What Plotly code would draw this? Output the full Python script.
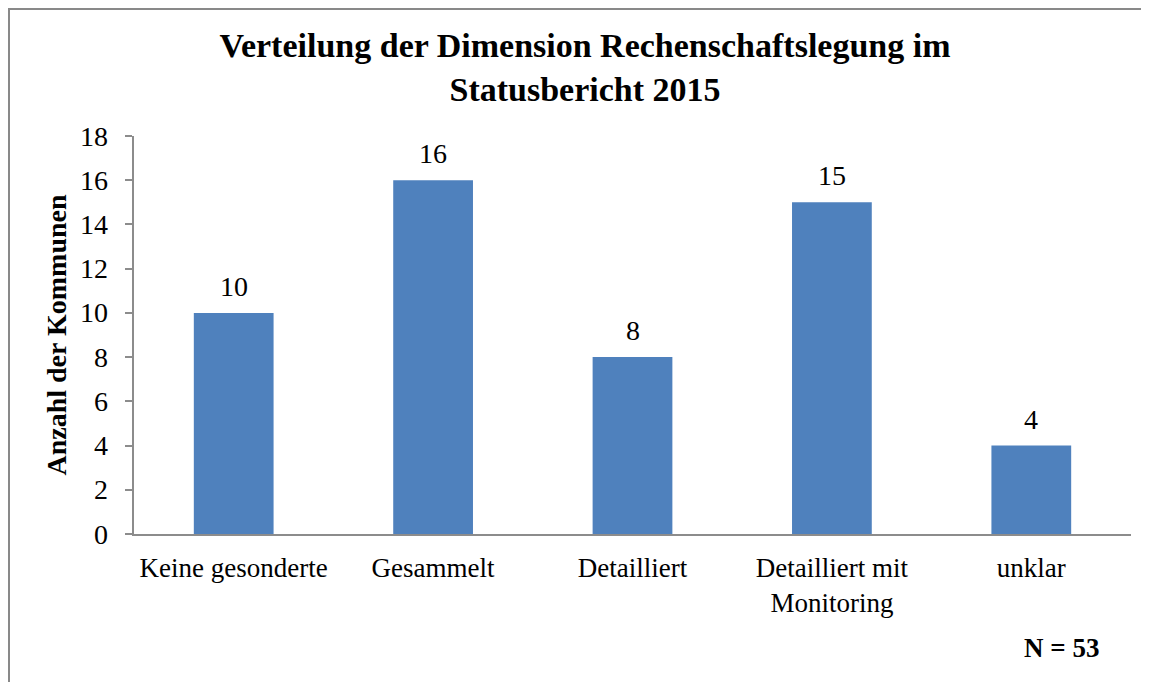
import plotly.graph_objects as go

# Daten aus dem Statusbericht 2015
kategorien = ["Keine gesonderte", "Gesammelt", "Detailliert", "Detailliert mit<br>Monitoring", "unklar"]
anzahl = [10, 16, 8, 15, 4]
y_ticks = [0, 2, 4, 6, 8, 10, 12, 14, 16, 18]

# the page body adds an 8px offset, so positions are in figure pixels
W, H = 1149, 682
L, R, T, B = 126, 26, 128, 156
pw, ph = W - L - R, H - T - B

def px_x(x):
    return (x - L) / pw

def px_y(y):
    return (H - B - y) / ph

SERIF = "Liberation Serif"

fig = go.Figure(go.Bar(
    x=kategorien,
    y=anzahl,
    marker=dict(color="#4F81BD", line=dict(width=0)),
    width=0.4,
))

# Werte über den Balken
for k, v in zip(kategorien, anzahl):
    fig.add_annotation(
        x=k, y=v, text=str(v), showarrow=False,
        yanchor="bottom", yshift=9,
        font=dict(family=SERIF, size=28, color="#000000"),
    )

# y tick labels as annotations, a bit further from the axis than plotly puts them
for t in y_ticks:
    fig.add_annotation(
        xref="paper", x=px_x(102), y=t, text=str(t), showarrow=False,
        xanchor="right", yanchor="middle",
        font=dict(family=SERIF, size=28, color="#000000"),
    )

fig.update_layout(
    width=W, height=H,
    margin=dict(l=L, r=R, t=T, b=B),
    paper_bgcolor="white",
    plot_bgcolor="white",
    showlegend=False,
    font=dict(family=SERIF, color="#000000"),
    title=dict(
        text="<b>Verteilung der Dimension Rechenschaftslegung im<br>Statusbericht 2015</b>",
        x=577 / W, xanchor="center",
        y=1 - 49 / H, yanchor="middle",
        font=dict(family=SERIF, size=34, color="#000000"),
    ),
    xaxis=dict(
        showline=True, linecolor="#8c8c8c", linewidth=1.5,
        ticks="", showgrid=False, automargin=False, ticklabelstandoff=9,
        tickfont=dict(family=SERIF, size=27, color="#000000"),
    ),
    yaxis=dict(
        range=[0, 18], tickvals=y_ticks,
        showline=True, linecolor="#8c8c8c", linewidth=1.5,
        ticks="outside", ticklen=7, tickcolor="#8c8c8c", tickwidth=1.5,
        showgrid=False, zeroline=False, showticklabels=False,
        automargin=False,
        title=dict(text="<b>Anzahl der Kommunen</b>", standoff=50,
                   font=dict(family=SERIF, size=28, color="#000000")),
    ),
)

fig.add_annotation(
    text="<b>N = 53</b>", xref="paper", yref="paper",
    x=px_x(1053), y=px_y(640), xanchor="center", yanchor="middle",
    showarrow=False, font=dict(family=SERIF, size=27, color="#000000"),
)

# Rahmen um das Diagramm
fig.add_shape(
    type="rect", xref="paper", yref="paper",
    x0=px_x(1), x1=px_x(W - 1), y0=px_y(H - 1), y1=px_y(1),
    line=dict(color="#898989", width=2), fillcolor="rgba(0,0,0,0)",
    layer="below",
)

fig.write_html("out.html")
